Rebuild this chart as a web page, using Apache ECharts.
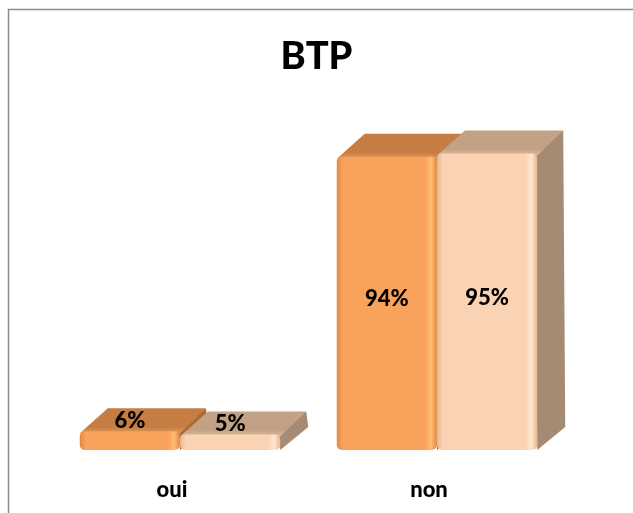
<!DOCTYPE html>
<html>
<head>
<meta charset="utf-8">
<script src="https://cdn.jsdelivr.net/npm/echarts@6/dist/echarts.min.js"></script>
<style>
  html, body { margin: 0; padding: 0; background: #ffffff; }
  #chart { width: 633px; height: 513px; }
</style>
</head>
<body>
<div id="chart"></div>
<script>
// Survey answers for the BTP sector (percent of respondents)
const categories = ['oui', 'non'];
const seriesA = [6, 94];
const seriesB = [5, 95];
const chartTitle = 'BTP';

const FONT = 'Lato';
const DEPTH_X = 28;
const DEPTH_Y = -23;

// colour sets per series: front face, top face, side face
const palettes = [
  { front: '#F8A25B', frontDark: '#E08A42', frontLight: '#FFBC76', top: '#C57D43', topLight: '#E29A58', side: '#B06A30' },
  { front: '#FBD3B3', frontDark: '#E4B894', frontLight: '#FFE6CD', top: '#C2A185', topLight: '#DDBCA0', side: '#A58A74' }
];

function box(seriesIdx) {
  return function (params, api) {
    const cat = api.value(0);
    const val = api.value(1);
    const base = api.coord([cat, 0]);
    const top = api.coord([cat, val]);
    const band = api.size([1, 0])[0];
    const barW = band * 0.39;
    const x0 = base[0] + (seriesIdx === 0 ? -barW : 0);
    const x1 = x0 + barW;
    const yb = base[1];
    const yt = top[1];
    const p = palettes[seriesIdx];
    const dx = DEPTH_X, dy = DEPTH_Y;
    const h = yb - yt;
    const labelY = h < 40 ? yt - 10 : (yt + yb) / 2 - 4;
    return {
      type: 'group',
      children: [
        {
          type: 'polygon',
          shape: { points: [[x1 - 2, yt], [x1 + dx - 2, yt + dy], [x1 + dx, yb + dy], [x1, yb]] },
          style: { fill: p.side }
        },
        {
          type: 'polygon',
          shape: { points: [[x0, yt + 2], [x0 + dx, yt + dy], [x1 + dx - 2, yt + dy], [x1, yt + 2]] },
          style: {
            fill: new echarts.graphic.LinearGradient(0, 0, 0, 1, [
              { offset: 0, color: p.top },
              { offset: 0.75, color: p.top },
              { offset: 1, color: p.topLight }
            ])
          }
        },
        {
          type: 'rect',
          shape: { x: x0, y: yt, width: barW, height: h, r: 5 },
          style: {
            fill: new echarts.graphic.LinearGradient(0, 0, 1, 0, [
              { offset: 0, color: p.frontDark },
              { offset: 0.06, color: p.front },
              { offset: 0.88, color: p.front },
              { offset: 0.94, color: p.frontLight },
              { offset: 1, color: p.frontDark }
            ])
          }
        },
        {
          type: 'text',
          x: x0 + barW / 2,
          y: labelY,
          style: {
            text: val + '%',
            fill: '#000000',
            font: '900 22px ' + FONT,
            align: 'center',
            verticalAlign: 'middle'
          }
        }
      ]
    };
  };
}

const chart = echarts.init(document.getElementById('chart'), null, { renderer: 'canvas' });

chart.setOption({
  backgroundColor: '#ffffff',
  animation: false,
  title: {
    text: chartTitle,
    left: 'center',
    top: 33,
    textStyle: { fontFamily: FONT, fontWeight: 900, fontSize: 38, color: '#000000' }
  },
  graphic: [{
    type: 'rect',
    shape: { x: 8.5, y: 9.5, width: 700, height: 600 },
    style: { fill: 'none', stroke: '#8C8C8C', lineWidth: 1.5 },
    silent: true
  }],
  grid: { left: 51.5, right: 67.5, top: 138, bottom: 63 },
  xAxis: {
    type: 'category',
    data: categories,
    axisLine: { show: false },
    axisTick: { show: false },
    axisLabel: {
      margin: 29,
      padding: [0, 16, 0, 0],
      fontFamily: FONT,
      fontWeight: 900,
      fontSize: 22,
      color: '#000000'
    }
  },
  yAxis: {
    type: 'value',
    min: 0,
    max: 100,
    show: false,
    splitLine: { show: false }
  },
  series: [
    {
      type: 'custom',
      name: 'A',
      renderItem: box(0),
      data: categories.map((c, i) => [i, seriesA[i]])
    },
    {
      type: 'custom',
      name: 'B',
      renderItem: box(1),
      data: categories.map((c, i) => [i, seriesB[i]])
    }
  ]
});
</script>
</body>
</html>
